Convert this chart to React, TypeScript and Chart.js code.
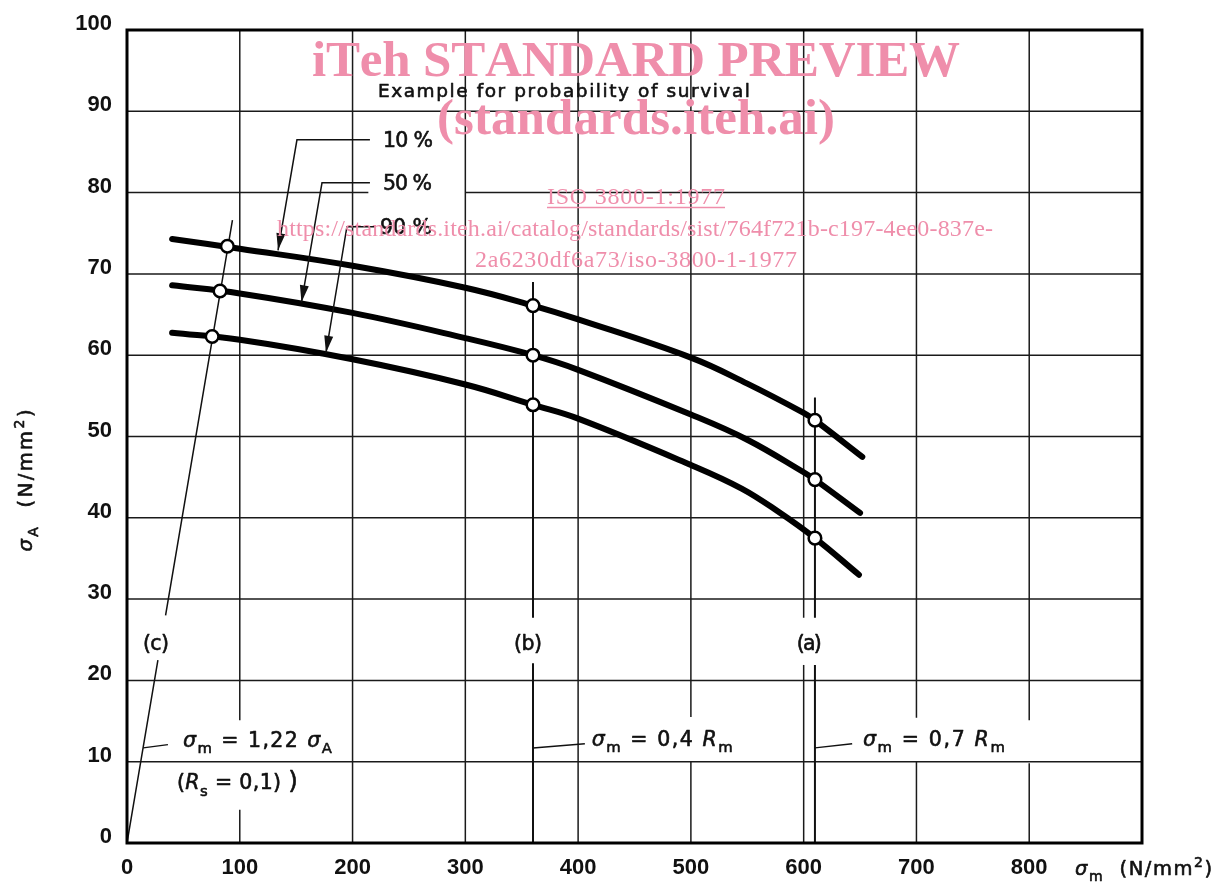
import React, { useEffect, useRef } from 'react';
import { Chart, registerables } from 'chart.js';

Chart.register(...registerables);

// ---------------- data ----------------
const xTickValues = [0, 100, 200, 300, 400, 500, 600, 700, 800];
const yTickValues = [0, 10, 20, 30, 40, 50, 60, 70, 80, 90, 100];

// probability of survival 10 %
const curve10M = [40, 100, 200, 300, 360, 400, 500, 550, 600, 610, 652];
const curve10A = [74.3, 73.1, 71.0, 68.3, 66.1, 64.4, 59.7, 56.5, 52.9, 52.0, 47.5];
// 50 %
const curve50M = [40, 100, 200, 300, 360, 400, 500, 550, 600, 610, 650];
const curve50A = [68.6, 67.6, 65.2, 62.1, 60.0, 58.2, 52.7, 49.6, 45.6, 44.7, 40.6];
// 90 %
const curve90M = [40, 100, 200, 300, 360, 400, 500, 545, 577, 610, 649];
const curve90A = [62.75, 61.9, 59.5, 56.4, 53.9, 52.2, 46.5, 43.6, 40.8, 37.5, 33.0];

// marked points (open circles)
const marks10M = [89, 360, 610];
const marks10A = [73.4, 66.1, 52.0];
const marks50M = [82.5, 360, 610];
const marks50A = [67.9, 60.0, 44.7];
const marks90M = [75.5, 360, 610];
const marks90A = [62.3, 53.9, 37.5];

// reference lines (null = break for a label)
const lineCM = [0, 27.4, null, 34.2, 93.5];
const lineCA = [0, 22.5, null, 28.0, 76.6];
const lineBM = [360, 360, null, 360, 360];
const lineBA = [69.0, 27.7, null, 22.1, 0];
const lineAM = [610, 610, null, 610, 610];
const lineAA = [54.8, 27.7, null, 21.9, 0];

// ---------------- layout / decoration (positions in axis units) ----------------
const GRID_X = [100, 200, 300, 400, 500, 600, 700, 800];
const GRID_Y = [10, 20, 30, 40, 50, 60, 70, 80, 90];
const GAPS_X = [
  { at: 100, from: 4.1, to: 15.1 },
  { at: 500, from: 10.0, to: 15.5 },
  { at: 600, from: 21.9, to: 27.7 },
  { at: 700, from: 10.0, to: 15.4 },
  { at: 800, from: 9.8, to: 15.1 },
];
const GAPS_Y = [{ at: 80, from: 214, to: 300 }];

const ARROWS = [
  [[215.4, 86.5], [150.7, 86.5], [133.9, 72.9]],
  [[215.4, 81.2], [172.9, 81.2], [154.7, 66.5]],
  [[220.7, 75.8], [195.0, 75.8], [176.4, 60.3]],
];
const LEADERS = [
  [[14.3, 11.7], [36.3, 12.1]],
  [[360, 11.7], [406, 12.2]],
  [[610, 11.7], [643, 12.2]],
];

type Part = { t: string; sub?: boolean; sup?: boolean; italic?: boolean; scale?: number };
const sig = (s: string): Part[] => [{ t: 'σ', italic: true }, { t: s, sub: true }];

const SANS = "'Liberation Sans', Arial, Helvetica, sans-serif";
const ANNO = "'DejaVu Sans', 'Liberation Sans', Arial, sans-serif";
const SERIF = "'Liberation Serif', 'Times New Roman', serif";
const INK = '#111';
const PINK = '#EF8EAB';

function fontFor(p: Part, size: number, family: string, weight: string) {
  let s = p.sub || p.sup ? size * 0.72 : size;
  if (p.scale) s *= p.scale;
  return `${p.italic ? 'italic ' : ''}${weight} ${s.toFixed(1)}px ${family}`;
}

function drawRich(
  ctx: CanvasRenderingContext2D,
  parts: Part[],
  x: number,
  y: number,
  o: {
    size: number;
    family?: string;
    weight?: string;
    align?: string;
    target?: number;
    baseline?: boolean;
    underline?: boolean;
    thick?: number;
  }
) {
  const family = o.family || ANNO;
  const weight = o.weight || 'normal';
  const glyphs: { ch: string; p: Part; w: number }[] = [];
  for (const p of parts) for (const ch of Array.from(p.t)) glyphs.push({ ch, p, w: 0 });
  let natural = 0;
  for (const g of glyphs) {
    ctx.font = fontFor(g.p, o.size, family, weight);
    g.w = ctx.measureText(g.ch).width;
    natural += g.w;
  }
  const extra = o.target && glyphs.length > 1 ? (o.target - natural) / (glyphs.length - 1) : 0;
  const total = natural + extra * (glyphs.length - 1);
  let cx = o.align === 'center' ? x - total / 2 : o.align === 'right' ? x - total : x;
  const startX = cx;
  const base = o.baseline ? y : y + o.size * 0.36;
  ctx.textAlign = 'left';
  ctx.textBaseline = 'alphabetic';
  ctx.strokeStyle = ctx.fillStyle as string;
  ctx.lineJoin = 'round';
  for (const g of glyphs) {
    ctx.font = fontFor(g.p, o.size, family, weight);
    const dy = g.p.sub ? o.size * 0.3 : g.p.sup ? -o.size * 0.4 : 0;
    ctx.fillText(g.ch, cx, base + dy);
    if (o.thick) {
      ctx.lineWidth = o.thick;
      ctx.strokeText(g.ch, cx, base + dy);
    }
    cx += g.w + extra;
  }
  if (o.underline) {
    ctx.lineWidth = 1.4;
    ctx.beginPath();
    ctx.moveTo(startX, base + 3.5);
    ctx.lineTo(startX + total, base + 3.5);
    ctx.stroke();
  }
}

const zip = (xs: (number | null)[], ys: (number | null)[]) =>
  xs.map((v, i) => ({ x: v === null ? NaN : v, y: ys[i] }));

function segmentsWithGaps(gaps: { from: number; to: number }[], max: number) {
  const sorted = [...gaps].sort((a, b) => a.from - b.from);
  let start = 0;
  const segs: number[][] = [];
  for (const g of sorted) {
    segs.push([start, g.from]);
    start = g.to;
  }
  segs.push([start, max]);
  return segs;
}

const decorPlugin = {
  id: 'decor',
  beforeDatasetsDraw(chart: any) {
    const { ctx, scales } = chart;
    const x = scales.x;
    const y = scales.y;
    ctx.save();
    ctx.strokeStyle = '#1a1a1a';
    ctx.lineWidth = 1.5;
    for (const v of GRID_X) {
      const px = x.getPixelForValue(v);
      for (const s of segmentsWithGaps(GAPS_X.filter((g) => g.at === v), 100)) {
        ctx.beginPath();
        ctx.moveTo(px, y.getPixelForValue(s[0]));
        ctx.lineTo(px, y.getPixelForValue(s[1]));
        ctx.stroke();
      }
    }
    for (const v of GRID_Y) {
      const py = y.getPixelForValue(v);
      for (const s of segmentsWithGaps(GAPS_Y.filter((g) => g.at === v), 900)) {
        ctx.beginPath();
        ctx.moveTo(x.getPixelForValue(s[0]), py);
        ctx.lineTo(x.getPixelForValue(s[1]), py);
        ctx.stroke();
      }
    }
    ctx.restore();
  },
  afterDatasetsDraw(chart: any) {
    const { ctx, scales, chartArea: a } = chart;
    const x = scales.x;
    const y = scales.y;
    const P = (pt: number[]) => [x.getPixelForValue(pt[0]), y.getPixelForValue(pt[1])];
    ctx.save();

    // frame
    ctx.strokeStyle = '#000';
    ctx.lineWidth = 3;
    ctx.strokeRect(a.left, a.top, a.right - a.left, a.bottom - a.top);

    // leader lines
    ctx.strokeStyle = INK;
    ctx.lineWidth = 1.5;
    for (const l of LEADERS) {
      const p0 = P(l[0]);
      const p1 = P(l[1]);
      ctx.beginPath();
      ctx.moveTo(p0[0], p0[1]);
      ctx.lineTo(p1[0], p1[1]);
      ctx.stroke();
    }
    // arrows
    ctx.fillStyle = INK;
    for (const ar of ARROWS) {
      const pts = ar.map(P);
      ctx.beginPath();
      ctx.moveTo(pts[0][0], pts[0][1]);
      for (let i = 1; i < pts.length; i++) ctx.lineTo(pts[i][0], pts[i][1]);
      ctx.stroke();
      const tip = pts[pts.length - 1];
      const prev = pts[pts.length - 2];
      const ang = Math.atan2(tip[1] - prev[1], tip[0] - prev[0]);
      const L = 17;
      const W = 4.5;
      ctx.beginPath();
      ctx.moveTo(tip[0], tip[1]);
      ctx.lineTo(tip[0] - L * Math.cos(ang) + W * Math.sin(ang), tip[1] - L * Math.sin(ang) - W * Math.cos(ang));
      ctx.lineTo(tip[0] - L * Math.cos(ang) - W * Math.sin(ang), tip[1] - L * Math.sin(ang) + W * Math.cos(ang));
      ctx.closePath();
      ctx.fill();
    }

    // annotation texts
    ctx.fillStyle = INK;
    const T = (parts: Part[], vx: number, vy: number, target: number, align = 'left', size = 20.5) =>
      drawRich(ctx, parts, x.getPixelForValue(vx), y.getPixelForValue(vy), { size, align, target, thick: 0.6 });
    T([{ t: 'Example for probability of survival' }], 222.5, 92.6, 372, 'left', 18.5);
    T([{ t: '10 %' }], 227, 86.5, 50);
    T([{ t: '50 %' }], 227, 81.2, 49);
    T([{ t: '90 %' }], 224.3, 75.8, 52);
    T([{ t: '(c)' }], 25.7, 24.7, 26, 'center');
    T([{ t: '(b)' }], 355.5, 24.7, 28, 'center');
    T([{ t: '(a)' }], 605, 24.7, 25, 'center');
    T([...sig('m'), { t: ' = 1,22 ' }, ...sig('A')], 49.6, 12.7, 149);
    T([{ t: '(' }, { t: 'R', italic: true }, { t: 's', sub: true }, { t: ' = 0,1) ' }, { t: ')', scale: 1.2 }], 44.3, 7.5, 121);
    T([...sig('m'), { t: ' = 0,4 ' }, { t: 'R', italic: true }, { t: 'm', sub: true }], 412.1, 12.9, 141);
    T([...sig('m'), { t: ' = 0,7 ' }, { t: 'R', italic: true }, { t: 'm', sub: true }], 652.5, 12.9, 142);

    // axis titles
    const unit: Part[] = [{ t: '  (N/mm' }, { t: '2', sup: true }, { t: ')' }];
    drawRich(ctx, [...sig('m'), ...unit], a.right - 67, a.bottom + 25, { size: 19.5, target: 137, thick: 0.6 });
    ctx.save();
    ctx.translate(a.left - 102, (a.top + a.bottom) / 2 + 44);
    ctx.rotate(-Math.PI / 2);
    drawRich(ctx, [...sig('A'), ...unit], 0, 0, { size: 19.5, target: 142, align: 'center', thick: 0.6 });
    ctx.restore();

    // watermark
    ctx.fillStyle = PINK;
    const cxw = 636;
    drawRich(ctx, [{ t: 'iTeh STANDARD PREVIEW' }], cxw, 76, { size: 51, family: SERIF, weight: 'bold', align: 'center', target: 648, baseline: true });
    drawRich(ctx, [{ t: '(standards.iteh.ai)' }], cxw, 134, { size: 51, family: SERIF, weight: 'bold', align: 'center', target: 398, baseline: true });
    drawRich(ctx, [{ t: 'ISO 3800-1:1977' }], cxw, 204, { size: 24, family: SERIF, align: 'center', target: 178, baseline: true, underline: true });
    drawRich(ctx, [{ t: 'https://standards.iteh.ai/catalog/standards/sist/764f721b-c197-4ee0-837e-' }], 635, 236, { size: 24, family: SERIF, align: 'center', target: 716, baseline: true });
    drawRich(ctx, [{ t: '2a6230df6a73/iso-3800-1-1977' }], cxw, 267, { size: 24, family: SERIF, align: 'center', target: 322, baseline: true });

    ctx.restore();
  },
};

export default function App() {
  const ref = useRef<HTMLCanvasElement | null>(null);
  useEffect(() => {
    if (!ref.current) return;
    const curveDs = (xs: number[], ys: number[]) => ({
      data: zip(xs, ys),
      showLine: true,
      borderColor: '#000',
      borderWidth: 6,
      borderCapStyle: 'round',
      borderJoinStyle: 'round',
      tension: 0.4,
      pointRadius: 0,
      order: 1,
    });
    const markDs = (xs: number[], ys: number[]) => ({
      data: zip(xs, ys),
      showLine: false,
      pointRadius: 6.3,
      pointBorderWidth: 2.5,
      pointBorderColor: '#000',
      pointBackgroundColor: '#fff',
      order: 0,
    });
    const refDs = (xs: (number | null)[], ys: (number | null)[], w: number) => ({
      data: zip(xs, ys),
      showLine: true,
      spanGaps: false,
      borderColor: '#111',
      borderWidth: w,
      pointRadius: 0,
      tension: 0,
      order: 2,
    });
    const chart = new Chart(ref.current, {
      type: 'scatter',
      data: {
        datasets: [
          markDs(marks10M, marks10A),
          markDs(marks50M, marks50A),
          markDs(marks90M, marks90A),
          curveDs(curve10M, curve10A),
          curveDs(curve50M, curve50A),
          curveDs(curve90M, curve90A),
          refDs(lineCM, lineCA, 1.5),
          refDs(lineBM, lineBA, 2),
          refDs(lineAM, lineAA, 2),
        ] as any,
      },
      options: {
        animation: false,
        responsive: false,
        devicePixelRatio: 1,
        layout: { padding: { left: 0, top: 30, right: 74, bottom: 0 } },
        plugins: { legend: { display: false }, tooltip: { enabled: false } },
        events: [],
        scales: {
          x: {
            type: 'linear',
            min: 0,
            max: 900,
            grid: { display: false, drawTicks: false },
            border: { display: false },
            afterBuildTicks: (axis: any) => {
              axis.ticks = xTickValues.map((v) => ({ value: v }));
            },
            afterFit: (axis: any) => {
              axis.height = 39;
            },
            ticks: {
              autoSkip: false,
              maxRotation: 0,
              padding: 12,
              color: INK,
              font: { family: SANS, size: 22, weight: 'bold' },
              callback: (v: any) => String(v),
            },
          },
          y: {
            type: 'linear',
            min: 0,
            max: 100,
            grid: { display: false, drawTicks: false },
            border: { display: false },
            afterBuildTicks: (axis: any) => {
              axis.ticks = yTickValues.map((v) => ({ value: v }));
            },
            afterFit: (axis: any) => {
              axis.width = 127;
            },
            ticks: {
              autoSkip: false,
              padding: 15,
              labelOffset: -6,
              color: INK,
              font: { family: SANS, size: 22, weight: 'bold' },
              callback: (v: any) => String(v),
            },
          },
        },
      } as any,
      plugins: [decorPlugin as any],
    });
    return () => chart.destroy();
  }, []);
  return (
    <div style={{ position: 'absolute', left: 0, top: 0, width: 1216, height: 882, background: '#fff' }}>
      <canvas ref={ref} width={1216} height={882} style={{ display: 'block' }} />
    </div>
  );
}
